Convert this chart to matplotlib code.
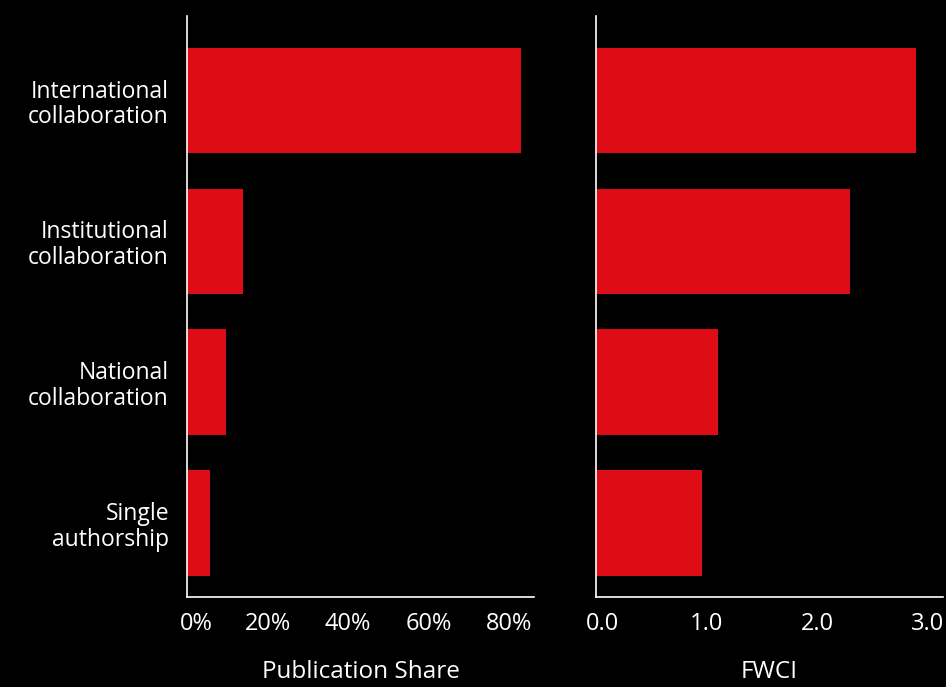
import numpy as np
import matplotlib
matplotlib.use('Agg')
import matplotlib.pyplot as plt
from matplotlib.ticker import FuncFormatter
from matplotlib.transforms import ScaledTranslation

# data
categories = ['International\ncollaboration', 'Institutional\ncollaboration',
              'National\ncollaboration', 'Single\nauthorship']
pub_share  = [83.0, 13.8, 9.8, 5.8]       # percent
fwci       = [2.90, 2.30, 1.10, 0.96]

share_ticks = [0, 20, 40, 60, 80]
fwci_ticks  = [0.0, 1.0, 2.0, 3.0]

BG    = '#000000'
RED   = '#de0c15'
WHITE = '#ffffff'

plt.rcParams['font.family'] = ['Open Sans', 'DejaVu Sans']

fig = plt.figure(figsize=(9.46, 6.87), dpi=100)
fig.patch.set_facecolor(BG)

ax1 = fig.add_axes([0.1977, 0.131, 0.3668, 0.8457])
ax2 = fig.add_axes([0.6300, 0.131, 0.3668, 0.8457])

y_pos = np.arange(len(categories))

def style(ax):
    ax.set_facecolor(BG)
    for s in ['top', 'right']:
        ax.spines[s].set_visible(False)
    for s in ['left', 'bottom']:
        ax.spines[s].set_color(WHITE)
        ax.spines[s].set_linewidth(1.2)
    ax.tick_params(axis='x', length=0, pad=11, colors=WHITE, labelsize=17)
    ax.tick_params(axis='y', length=0, pad=13, colors=WHITE, labelsize=16.5)
    ax.set_ylim(3.525, -0.6)

# left panel: publication share
ax1.barh(y_pos, pub_share, height=0.75, color=RED)
style(ax1)
ax1.set_xlim(0, 86.2)
ax1.set_xticks(share_ticks)
ax1.xaxis.set_major_formatter(FuncFormatter(lambda v, p: '{:.0f}%'.format(v)))
ax1.set_yticks(y_pos)
ax1.set_yticklabels(categories, linespacing=1.1)
ax1.set_xlabel('Publication Share', color=WHITE, fontsize=17.5, labelpad=17)

# right panel: FWCI
ax2.barh(y_pos, fwci, height=0.75, color=RED)
style(ax2)
ax2.set_xlim(0, 3.14)
ax2.set_xticks(fwci_ticks)
ax2.xaxis.set_major_formatter(FuncFormatter(lambda v, p: '{:.1f}'.format(v)))
ax2.set_yticks([])
ax2.set_xlabel('FWCI', color=WHITE, fontsize=17.5, labelpad=17)

# nudge the zero labels off the spine, like the original
fig.canvas.draw()
for ax, dx in [(ax1, 9), (ax2, 7)]:
    lbl = ax.get_xticklabels()[0]
    lbl.set_transform(lbl.get_transform() + ScaledTranslation(dx / 100, 0, fig.dpi_scale_trans))

plt.savefig('out.png', dpi=100, facecolor=BG)
plt.close()
